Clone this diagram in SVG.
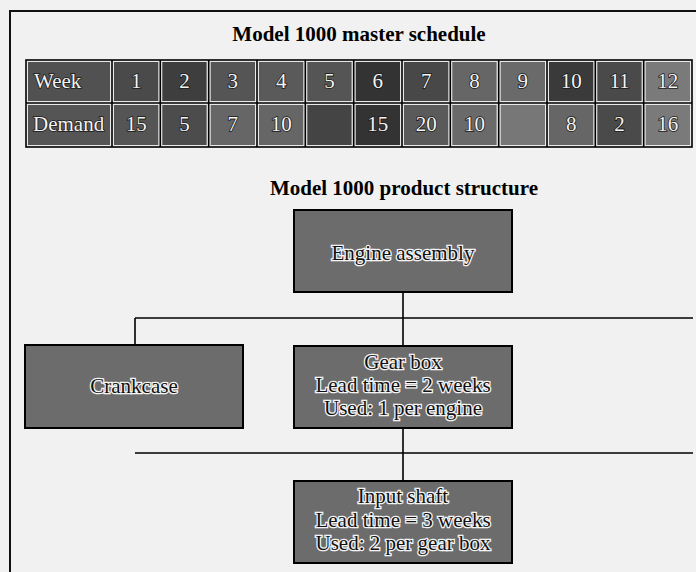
<svg xmlns="http://www.w3.org/2000/svg" width="696" height="572" viewBox="0 0 696 572">
<defs>
<style>
.bg{fill:#f1f1f1}
.frame{fill:none;stroke:#111;stroke-width:2}
.title{font-family:"Liberation Serif","Times New Roman",serif;font-weight:bold;font-size:21px;fill:#000;text-anchor:middle}
.grid{fill:#e8e8e8;stroke:#000;stroke-width:1.6}
.cell{stroke:none}
.tt{font-family:"Liberation Serif","Times New Roman",serif;font-size:21px;fill:#f4f4f4;stroke:#1a1a1a;stroke-width:1.6;paint-order:stroke;text-anchor:middle}
.tl{text-anchor:start}
.box{fill:#6c6c6c;stroke:#000;stroke-width:2}
.bt{font-family:"Liberation Serif","Times New Roman",serif;font-size:21px;fill:#111;stroke:#f4f4f4;stroke-width:2.6;paint-order:stroke;text-anchor:middle}
.conn{fill:none;stroke:#000;stroke-width:1.6}
</style>
</defs>
<rect class="bg" x="0" y="0" width="696" height="572"/>
<path class="frame" d="M10,572 V11 H696"/>

<text class="title" x="359" y="41">Model 1000 master schedule</text>

<g id="schedule">
<rect class="grid" x="26" y="60" width="666" height="87"/>
<g class="cell">
<rect x="28" y="62" width="82" height="39" fill="#515151"/>
<rect x="114" y="62" width="44.3" height="39" fill="#4a4a4a"/>
<rect x="162.3" y="62" width="44.3" height="39" fill="#3e3e3e"/>
<rect x="210.7" y="62" width="44.3" height="39" fill="#555"/>
<rect x="259" y="62" width="44.3" height="39" fill="#5a5a5a"/>
<rect x="307.3" y="62" width="44.3" height="39" fill="#555"/>
<rect x="355.7" y="62" width="44.3" height="39" fill="#333"/>
<rect x="404" y="62" width="44.3" height="39" fill="#484848"/>
<rect x="452.3" y="62" width="44.3" height="39" fill="#666"/>
<rect x="500.7" y="62" width="44.3" height="39" fill="#6a6a6a"/>
<rect x="549" y="62" width="44.3" height="39" fill="#3a3a3a"/>
<rect x="597.3" y="62" width="44.3" height="39" fill="#4a4a4a"/>
<rect x="645.7" y="62" width="44.3" height="39" fill="#7a7a7a"/>

<rect x="28" y="105" width="82" height="40" fill="#555"/>
<rect x="114" y="105" width="44.3" height="40" fill="#555"/>
<rect x="162.3" y="105" width="44.3" height="40" fill="#4c4c4c"/>
<rect x="210.7" y="105" width="44.3" height="40" fill="#666"/>
<rect x="259" y="105" width="44.3" height="40" fill="#666"/>
<rect x="307.3" y="105" width="44.3" height="40" fill="#444"/>
<rect x="355.7" y="105" width="44.3" height="40" fill="#333"/>
<rect x="404" y="105" width="44.3" height="40" fill="#5a5a5a"/>
<rect x="452.3" y="105" width="44.3" height="40" fill="#6a6a6a"/>
<rect x="500.7" y="105" width="44.3" height="40" fill="#777"/>
<rect x="549" y="105" width="44.3" height="40" fill="#666"/>
<rect x="597.3" y="105" width="44.3" height="40" fill="#4a4a4a"/>
<rect x="645.7" y="105" width="44.3" height="40" fill="#7a7a7a"/>
</g>
<path class="conn" d="M26,103 H692 M112,60 V147 M160.3,60 V147 M208.7,60 V147 M257,60 V147 M305.3,60 V147 M353.7,60 V147 M402,60 V147 M450.3,60 V147 M498.7,60 V147 M547,60 V147 M595.3,60 V147 M643.7,60 V147"/>
<text class="tt tl" x="34" y="88">Week</text>
<text class="tt" x="136.2" y="88">1</text>
<text class="tt" x="184.5" y="88">2</text>
<text class="tt" x="232.8" y="88">3</text>
<text class="tt" x="281.2" y="88">4</text>
<text class="tt" x="329.5" y="88">5</text>
<text class="tt" x="377.8" y="88">6</text>
<text class="tt" x="426.2" y="88">7</text>
<text class="tt" x="474.5" y="88">8</text>
<text class="tt" x="522.8" y="88">9</text>
<text class="tt" x="571.2" y="88">10</text>
<text class="tt" x="619.5" y="88">11</text>
<text class="tt" x="667.8" y="88">12</text>
<text class="tt tl" x="33" y="131">Demand</text>
<text class="tt" x="136.2" y="131">15</text>
<text class="tt" x="184.5" y="131">5</text>
<text class="tt" x="232.8" y="131">7</text>
<text class="tt" x="281.2" y="131">10</text>
<text class="tt" x="377.8" y="131">15</text>
<text class="tt" x="426.2" y="131">20</text>
<text class="tt" x="474.5" y="131">10</text>
<text class="tt" x="571.2" y="131">8</text>
<text class="tt" x="619.5" y="131">2</text>
<text class="tt" x="667.8" y="131">16</text>
</g>

<text class="title" x="404" y="195">Model 1000 product structure</text>

<g id="connectors">
<path class="conn" d="M403,292 V346 M135,318 H693 M135,318 V345 M135,453 H693 M403,428 V481"/>
</g>

<g id="engine-assembly">
<rect class="box" x="294" y="210" width="218" height="82"/>
<text class="bt" x="403" y="260">Engine assembly</text>
</g>

<g id="crankcase">
<rect class="box" x="25" y="345" width="218" height="83"/>
<text class="bt" x="134" y="393">Crankcase</text>
</g>

<g id="gear-box">
<rect class="box" x="294" y="346" width="218" height="82"/>
<text class="bt" x="403" y="369">Gear box</text>
<text class="bt" x="403" y="392">Lead time = 2 weeks</text>
<text class="bt" x="403" y="415">Used: 1 per engine</text>
</g>

<g id="input-shaft">
<rect class="box" x="294" y="481" width="218" height="82"/>
<text class="bt" x="403" y="503">Input shaft</text>
<text class="bt" x="403" y="527">Lead time = 3 weeks</text>
<text class="bt" x="403" y="550">Used: 2 per gear box</text>
</g>
</svg>
